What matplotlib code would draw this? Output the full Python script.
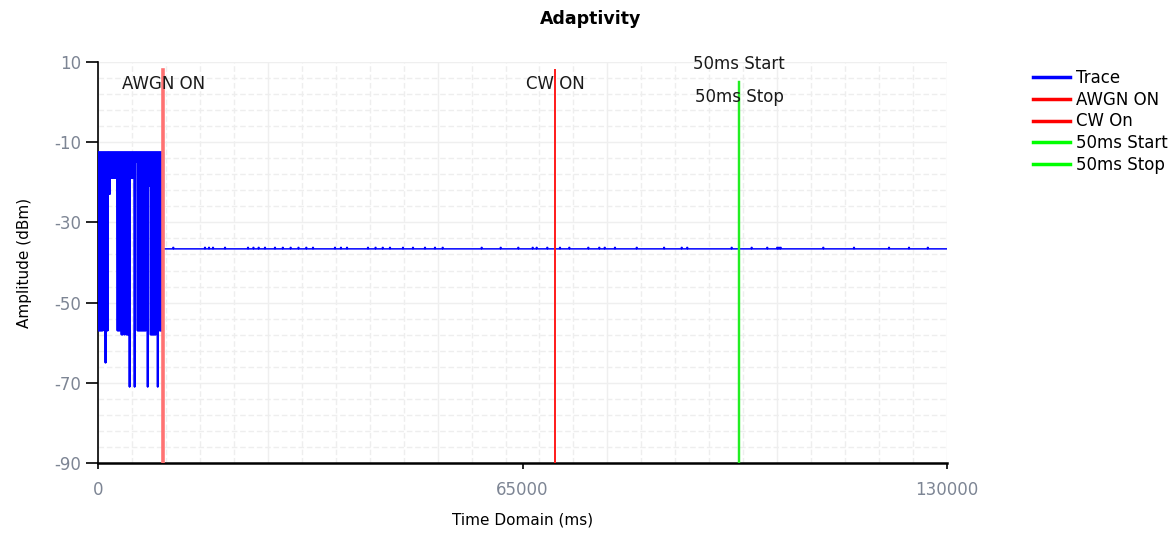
import matplotlib
matplotlib.use("Agg")
import matplotlib.pyplot as plt
from matplotlib.lines import Line2D
import numpy as np

plt.rcParams['font.family'] = ['DejaVu Sans']

# ---------------- data ----------------
title = "Adaptivity"
x_label = "Time Domain (ms)"
y_label = "Amplitude (dBm)"
x_ticks = [0, 65000, 130000]
y_ticks = [-90, -70, -50, -30, -10, 10]

# burst section (before AWGN ON): per-column lowest value, top value is constant
burst_end_ms = 10000
burst_top = -12.5
burst_lows = [-57, -57, -57, -57, -57, -19, -57, -65, -57, -57,
              -13, -23, -19, -19, -19, -18, -19, -19, -19, -57,
              -57, -57, -20, -58, -58, -20, -58, -21, -58, -58,
              -58, -71, -19, -19, -19, -19, -71, -15, -15, -57,
              -57, -57, -57, -57, -57, -57, -57, -57, -21, -71,
              -21, -21, -58, -58, -58, -58, -58, -58, -25, -71,
              -27, -57, -57, -57, -57]

# steady section after AWGN ON
flat_level = -36.6
bump_level = -36.25
bump_ms = [11530, 16380, 17000, 17610, 19450, 22970, 23800, 24600, 25570,
           27100, 28300, 29500, 30700, 31900, 32920, 36290, 37200, 38130,
           41340, 42500, 43600, 44710, 46700, 48230, 50070, 51600, 52780,
           58750, 61660, 64360, 66560, 67170, 68800, 70740, 72170, 75080,
           76760, 77590, 79160, 82490, 86680, 89380, 90230, 97030, 100090,
           102480, 104010, 104270, 104530, 111060, 115760, 121120, 124180,
           127060]
trace_end_ms = 130000

# marker lines
markers = ["AWGN ON", "CW On", "50ms Start", "50ms Stop"]
marker_ms = [10000, 70000, 98150, 98150]
marker_top = [8, 8, 5, 5]
marker_colors = ["#ff7272", "#ff1a1a", "#22ee22", "#22ee22"]
marker_lw = [2.6, 1.4, 1.6, 1.6]
annot_text = ["AWGN ON", "CW ON", "50ms Start", "50ms Stop"]
annot_y = [4.5, 4.5, 9.5, 1.3]

# ---------------- build trace ----------------
step = burst_end_ms / len(burst_lows)
tx, ty = [], []
for i, low in enumerate(burst_lows):
    t0 = i * step
    tx += [t0, t0 + step / 4, t0 + step / 2, t0 + 3 * step / 4]
    ty += [burst_top, low, burst_top, low]
tx += [burst_end_ms, burst_end_ms]
ty += [burst_top, flat_level]
for b in bump_ms:
    tx += [b - 50, b - 50, b + 50, b + 50]
    ty += [flat_level, bump_level, bump_level, flat_level]
tx += [trace_end_ms]
ty += [flat_level]

# ---------------- figure ----------------
W, H = 1171, 536
fig = plt.figure(figsize=(W / 100, H / 100), dpi=100)
ax = fig.add_axes([98 / W, 1 - 463 / H, 849 / W, 401 / H])

xmin, xmax = 0, 130000
ymin, ymax = -90, 10
ax.set_xlim(xmin, xmax)
ax.set_ylim(ymin, ymax)

# grid
for gx in np.arange(xmin, xmax + 1, 5200):
    major = (gx % 26000 == 0)
    ax.axvline(gx, color='#efefef' if major else '#eeeeee',
               lw=1.0, ls='-' if major else (0, (4, 2)), zorder=0)
for gy in np.arange(ymin, ymax + 0.1, 4):
    major = ((gy - ymin) % 20 == 0)
    ax.axhline(gy, color='#efefef' if major else '#eeeeee',
               lw=1.0, ls='-' if major else (0, (4, 2)), zorder=0)

ax.plot(tx, ty, color='#0000ff', lw=1.1, zorder=3)

for m, t, top, c, lw in zip(markers, marker_ms, marker_top, marker_colors, marker_lw):
    ax.plot([t, t], [ymin, top], color=c, lw=lw, zorder=4)

for txt, t, y in zip(annot_text, marker_ms, annot_y):
    ax.text(t, y, txt, ha='center', va='center', fontsize=12, color='#1a1a1a', zorder=5)

for s in ['top', 'right']:
    ax.spines[s].set_visible(False)
ax.spines['left'].set_linewidth(1.2)
ax.spines['bottom'].set_linewidth(1.8)

ax.set_xticks(x_ticks)
ax.set_xticklabels([str(v) for v in x_ticks])
ax.set_yticks(y_ticks)
ax.set_yticklabels([str(v) for v in y_ticks])
ax.tick_params(axis='y', length=8.5, width=1.2, pad=3.5, labelsize=12, labelcolor='#7d8594')
ax.tick_params(axis='x', length=4, width=1.2, pad=9, labelsize=12, labelcolor='#7d8594')

ax.set_xlabel(x_label, fontsize=11, labelpad=10)
ax.set_ylabel(y_label, fontsize=11, labelpad=16)
fig.text(591 / W, 1 - 19 / H, title, ha='center', va='center',
         fontsize=12.5, fontweight='bold')

handles = [Line2D([], [], color=c, lw=2.5) for c in ['#0000ff', '#ff0000', '#ff0000', '#00ff00', '#00ff00']]
labels = ["Trace", "AWGN ON", "CW On", "50ms Start", "50ms Stop"]
fig.legend(handles, labels, loc='upper left', bbox_to_anchor=(1033 / W, 1 - 69 / H),
           frameon=False, fontsize=12, handlelength=2.2, handletextpad=0.4,
           labelspacing=0.22, borderaxespad=0, borderpad=0)

fig.savefig("out.png", dpi=100)
